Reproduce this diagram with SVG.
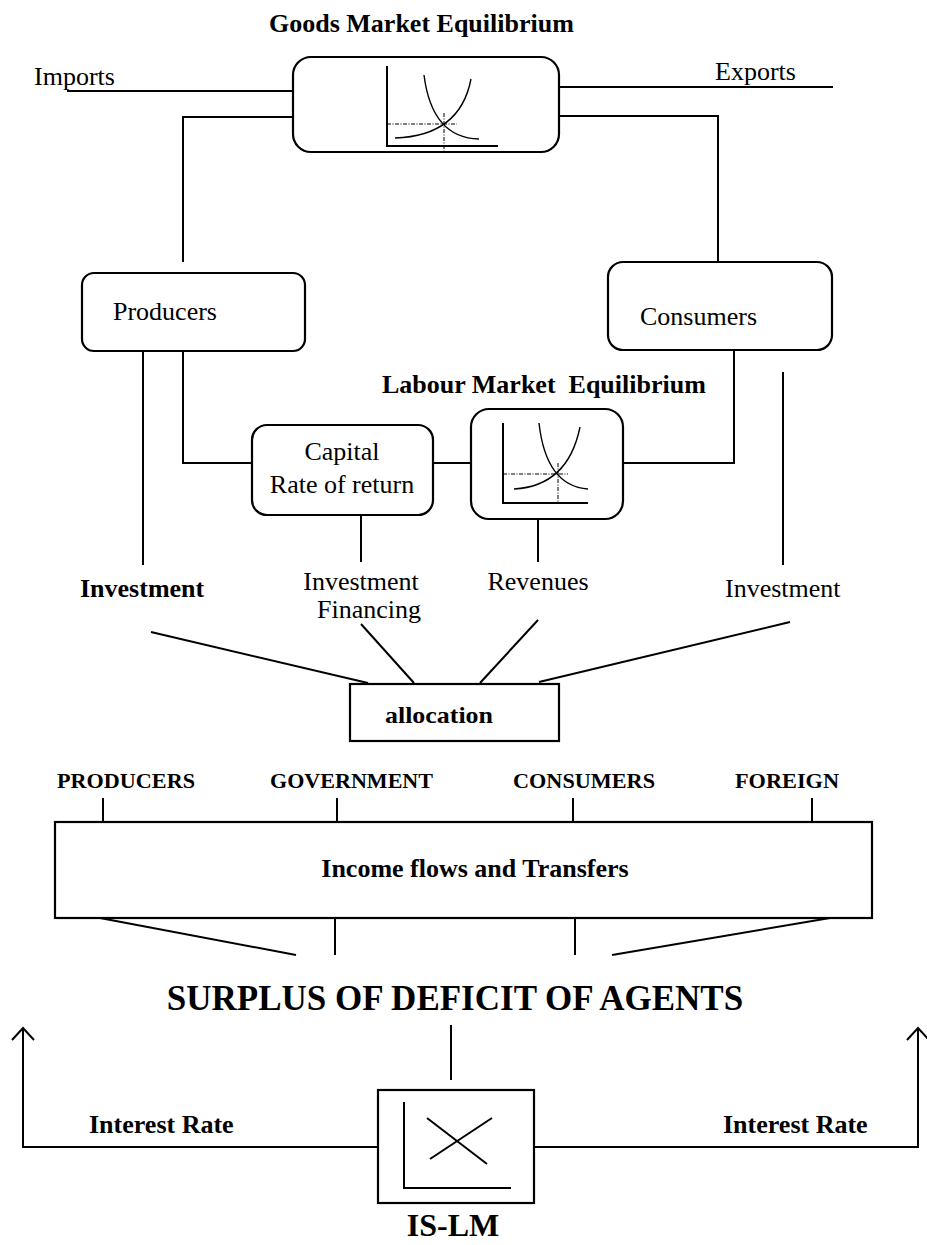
<svg xmlns="http://www.w3.org/2000/svg" width="927" height="1245" viewBox="0 0 927 1245">
<style>
text{font-family:"Liberation Serif","Times New Roman",serif;fill:#000}
.b{font-weight:bold}
.r26{font-size:26px}
.b26{font-size:26px;font-weight:bold}
.b22{font-size:22px;font-weight:bold}
.ln{fill:none;stroke:#000;stroke-width:2}
.box{fill:#fff;stroke:#000;stroke-width:2.2}
.ax{fill:none;stroke:#000;stroke-width:2}
.cv{fill:none;stroke:#000;stroke-width:1.4}
.ds{fill:none;stroke:#000;stroke-width:1;stroke-dasharray:4 1.5 1 1.5}
</style>
<rect width="927" height="1245" fill="#fff"/>
<g id="connectors">
<polyline class="ln" points="67,91 293,91"/>
<polyline class="ln" points="293,117 183,117 183,262"/>
<polyline class="ln" points="559,87 833,87"/>
<polyline class="ln" points="559,116 718,116 718,262"/>
<polyline class="ln" points="143,351 143,565"/>
<polyline class="ln" points="183,351 183,463 252,463"/>
<polyline class="ln" points="433,463 471,463"/>
<polyline class="ln" points="623,463 734,463 734,350"/>
<polyline class="ln" points="783,372 783,565"/>
<polyline class="ln" points="361,515 361,562"/>
<polyline class="ln" points="538,519 538,562"/>
<line class="ln" x1="151" y1="632" x2="368" y2="683"/>
<line class="ln" x1="361" y1="624" x2="414" y2="683"/>
<line class="ln" x1="538" y1="620" x2="480" y2="683"/>
<line class="ln" x1="790" y1="622" x2="539" y2="682"/>
<line class="ln" x1="103" y1="798" x2="103" y2="822"/>
<line class="ln" x1="337" y1="798" x2="337" y2="822"/>
<line class="ln" x1="573" y1="798" x2="573" y2="822"/>
<line class="ln" x1="812" y1="798" x2="812" y2="822"/>
<line class="ln" x1="100" y1="918" x2="296" y2="955"/>
<line class="ln" x1="335" y1="918" x2="335" y2="955"/>
<line class="ln" x1="575" y1="918" x2="575" y2="955"/>
<line class="ln" x1="830" y1="918" x2="612" y2="955"/>
<line class="ln" x1="451" y1="1025" x2="451" y2="1080"/>
<polyline class="ln" points="378,1147 23,1147 23,1028"/>
<polyline class="ln" points="12,1040 23,1028 34,1040"/>
<polyline class="ln" points="534,1147 918,1147 918,1028"/>
<polyline class="ln" points="907,1040 918,1028 929,1040"/>
</g>
<g id="labels">
<text class="b26" x="269" y="32">Goods Market Equilibrium</text>
<text class="r26" x="34" y="85">Imports</text>
<text class="r26" x="715" y="80">Exports</text>
<text class="b26" x="382" y="393" xml:space="preserve">Labour Market  Equilibrium</text>
<text class="b26" x="80" y="597">Investment</text>
<text class="r26" x="361" y="590" text-anchor="middle">Investment</text>
<text class="r26" x="369" y="618" text-anchor="middle">Financing</text>
<text class="r26" x="538" y="590" text-anchor="middle">Revenues</text>
<text class="r26" x="725" y="597">Investment</text>
<text class="b22" x="57" y="788" textLength="138" lengthAdjust="spacingAndGlyphs">PRODUCERS</text>
<text class="b22" x="270" y="788" textLength="163" lengthAdjust="spacingAndGlyphs">GOVERNMENT</text>
<text class="b22" x="513" y="788" textLength="142" lengthAdjust="spacingAndGlyphs">CONSUMERS</text>
<text class="b22" x="735" y="788" textLength="104" lengthAdjust="spacingAndGlyphs">FOREIGN</text>
<text class="b" x="455" y="1010" font-size="35" text-anchor="middle">SURPLUS OF DEFICIT OF AGENTS</text>
<text class="b26" x="89" y="1133">Interest Rate</text>
<text class="b26" x="723" y="1133">Interest Rate</text>
<text class="b" x="453" y="1236" font-size="32" text-anchor="middle">IS-LM</text>
</g>
<g id="goods-market">
<rect class="box" x="293" y="57" width="266" height="95" rx="18"/>
<polyline class="ax" points="387,66 387,146 498,146"/>
<path class="cv" d="M424,75 Q432,138 479,139"/>
<path class="cv" d="M395,138 Q460,136 471,79"/>
<polyline class="ds" points="387,124 457,124"/>
<polyline class="ds" points="444,113 444,152"/>
</g>
<g id="producers">
<rect class="box" x="82" y="273" width="223" height="78" rx="12"/>
<text class="r26" x="113" y="320">Producers</text>
</g>
<g id="consumers">
<rect class="box" x="608" y="262" width="224" height="88" rx="15"/>
<text class="r26" x="640" y="325">Consumers</text>
</g>
<g id="capital">
<rect class="box" x="252" y="425" width="181" height="90" rx="15"/>
<text class="r26" x="342" y="460" text-anchor="middle">Capital</text>
<text class="r26" x="342" y="493" text-anchor="middle">Rate of return</text>
</g>
<g id="labour-market">
<rect class="box" x="471" y="409" width="152" height="110" rx="18"/>
<polyline class="ax" points="503,423 503,503 588,503"/>
<path class="cv" d="M539,423 Q546,486 588,489"/>
<path class="cv" d="M514,489 Q568,486 580,427"/>
<polyline class="ds" points="503,474 568,474"/>
<polyline class="ds" points="558,463 558,503"/>
</g>
<g id="allocation">
<rect class="box" x="350" y="684" width="209" height="57"/>
<text class="b" x="385" y="723" font-size="24" textLength="108" lengthAdjust="spacingAndGlyphs">allocation</text>
</g>
<g id="income-flows">
<rect class="box" x="55" y="822" width="817" height="96"/>
<text class="b26" x="475" y="877" text-anchor="middle">Income flows and Transfers</text>
</g>
<g id="is-lm">
<rect class="box" x="378" y="1090" width="156" height="113"/>
<polyline class="ax" points="404,1102 404,1188 511,1188"/>
<line class="ax" x1="427" y1="1118" x2="487" y2="1164"/>
<line class="ax" x1="492" y1="1118" x2="430" y2="1159"/>
</g>
</svg>
